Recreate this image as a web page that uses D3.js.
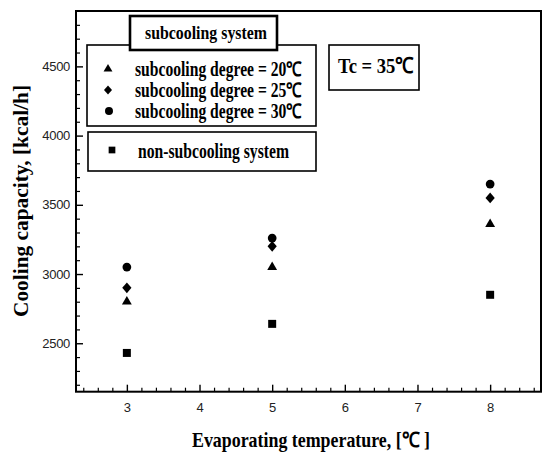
<!DOCTYPE html>
<html><head><meta charset="utf-8">
<script src="https://cdn.jsdelivr.net/npm/d3@7"></script>
<style>body{margin:0;background:#fff;} svg{display:block;}</style>
</head><body>
<script>
// ---- data ----
const evapTemps = [3, 5, 8];
const deg20 = [2800, 3050, 3360];
const deg25 = [2900, 3200, 3550];
const deg30 = [3050, 3260, 3650];
const nonSub = [2430, 2640, 2850];
const xMajorTicks = [3, 4, 5, 6, 7, 8];
const yMajorTicks = [2500, 3000, 3500, 4000, 4500];
const xLabel = "Evaporating temperature, [\u2103 ]";
const yLabel = "Cooling capacity, [kcal/h]";
const legendTitle = "subcooling system";
const legendLabels = ["subcooling degree = 20\u2103", "subcooling degree = 25\u2103", "subcooling degree = 30\u2103"];
const nonSubLabel = "non-subcooling system";
const tcLabel = "Tc = 35\u2103";

const W = 548, H = 455;
const svg = d3.select("body").append("svg").attr("width", W).attr("height", H);
const L = 76, R = 541, T = 11, B = 391.7;
const x = d3.scaleLinear().domain([2.3, 8.7]).range([L, R]);
const y = d3.scaleLinear().domain([2150, 4900]).range([B, T]);

const xMinor = d3.range(2.4, 8.7, 0.2).map(v => +v.toFixed(1)).filter(v => Math.abs(v - Math.round(v)) > 1e-6);
const yMinor = d3.range(2200, 4900, 100).filter(v => v % 500 !== 0);

const serif = "'Liberation Serif','Times New Roman',serif";
const sans = "'Liberation Sans',Arial,sans-serif";

// minor ticks
svg.append("g").attr("transform", `translate(0,${B})`)
  .call(d3.axisBottom(x).tickValues(xMinor).tickFormat("").tickSize(-4))
  .call(g => g.select(".domain").remove())
  .call(g => g.selectAll("line").attr("stroke", "#000").attr("stroke-width", 1.2));
svg.append("g").attr("transform", `translate(${L},0)`)
  .call(d3.axisLeft(y).tickValues(yMinor).tickFormat("").tickSize(-4))
  .call(g => g.select(".domain").remove())
  .call(g => g.selectAll("line").attr("stroke", "#000").attr("stroke-width", 1.2));

// major ticks
svg.append("g").attr("transform", `translate(0,${B})`)
  .call(d3.axisBottom(x).tickValues(xMajorTicks).tickFormat(d3.format("d")).tickSize(-7).tickPadding(11))
  .call(g => g.select(".domain").remove())
  .call(g => g.selectAll("line").attr("stroke", "#000").attr("stroke-width", 1.4))
  .call(g => g.selectAll("text").attr("font-family", sans).attr("font-size", 13).attr("fill", "#222"));
svg.append("g").attr("transform", `translate(${L},0)`)
  .call(d3.axisLeft(y).tickValues(yMajorTicks).tickFormat(d3.format("d")).tickSize(-7).tickPadding(6))
  .call(g => g.select(".domain").remove())
  .call(g => g.selectAll("line").attr("stroke", "#000").attr("stroke-width", 1.4))
  .call(g => g.selectAll("text").attr("font-family", sans).attr("font-size", 13).attr("fill", "#222").attr("letter-spacing", -0.3));

// frame
svg.append("rect").attr("x", L).attr("y", T).attr("width", R - L).attr("height", B - T)
  .attr("fill", "none").attr("stroke", "#000").attr("stroke-width", 2);

// axis labels
svg.append("text").attr("x", 311).attr("y", 447).attr("text-anchor", "middle")
  .attr("font-family", serif).attr("font-weight", "bold").attr("font-size", 21)
  .attr("textLength", 238).attr("lengthAdjust", "spacingAndGlyphs").text(xLabel);
svg.append("text").attr("transform", "translate(28,201) rotate(-90)").attr("text-anchor", "middle")
  .attr("font-family", serif).attr("font-weight", "bold").attr("font-size", 21)
  .attr("textLength", 232).attr("lengthAdjust", "spacingAndGlyphs").text(yLabel);

// symbols
const diamond = {
  draw(ctx, size) {
    const r = Math.sqrt(size) / 2;
    ctx.moveTo(0, -r * 1.15); ctx.lineTo(r, 0); ctx.lineTo(0, r * 1.15); ctx.lineTo(-r, 0); ctx.closePath();
  }
};
const series = [
  { vals: deg20, type: d3.symbolTriangle, size: 42 },
  { vals: deg25, type: diamond, size: 85 },
  { vals: deg30, type: d3.symbolCircle, size: 60 },
  { vals: nonSub, type: d3.symbolSquare, size: 64 }
];
series.forEach(s => {
  svg.append("g").selectAll("path").data(evapTemps.map((t, i) => [t, s.vals[i]])).join("path")
    .attr("transform", d => `translate(${x(d[0])},${y(d[1])})`)
    .attr("d", d3.symbol().type(s.type).size(s.size)).attr("fill", "#000");
});

// legend boxes
function box(x0, y0, x1, y1, sw) {
  svg.append("rect").attr("x", x0).attr("y", y0).attr("width", x1 - x0).attr("height", y1 - y0)
    .attr("fill", "#fff").attr("stroke", "#000").attr("stroke-width", sw);
}
box(87, 45, 316, 126, 1.6);
box(88, 132, 316, 171, 1.6);
box(130, 16, 277, 50, 2.6);
box(329, 45, 419, 90, 1.6);

function txt(x0, yc, s, size, len) {
  svg.append("text").attr("x", x0).attr("y", yc).attr("dy", "0.33em")
    .attr("font-family", serif).attr("font-weight", "bold").attr("font-size", size)
    .attr("textLength", len).attr("lengthAdjust", "spacingAndGlyphs").text(s);
}
txt(145, 33, legendTitle, 19, 122);
const legY = [69, 90, 111];
legendLabels.forEach((s, i) => txt(135, legY[i], s, 20, 167));
txt(138, 151, nonSubLabel, 20, 151);
txt(338, 66, tcLabel, 22, 76);

const legSyms = [
  { type: d3.symbolTriangle, size: 34, x: 108, y: 69 },
  { type: diamond, size: 64, x: 108, y: 90 },
  { type: d3.symbolCircle, size: 50, x: 109, y: 111 },
  { type: d3.symbolSquare, size: 45, x: 112, y: 150 }
];
legSyms.forEach(s => svg.append("path").attr("transform", `translate(${s.x},${s.y})`)
  .attr("d", d3.symbol().type(s.type).size(s.size)).attr("fill", "#000"));
</script>
</body></html>
